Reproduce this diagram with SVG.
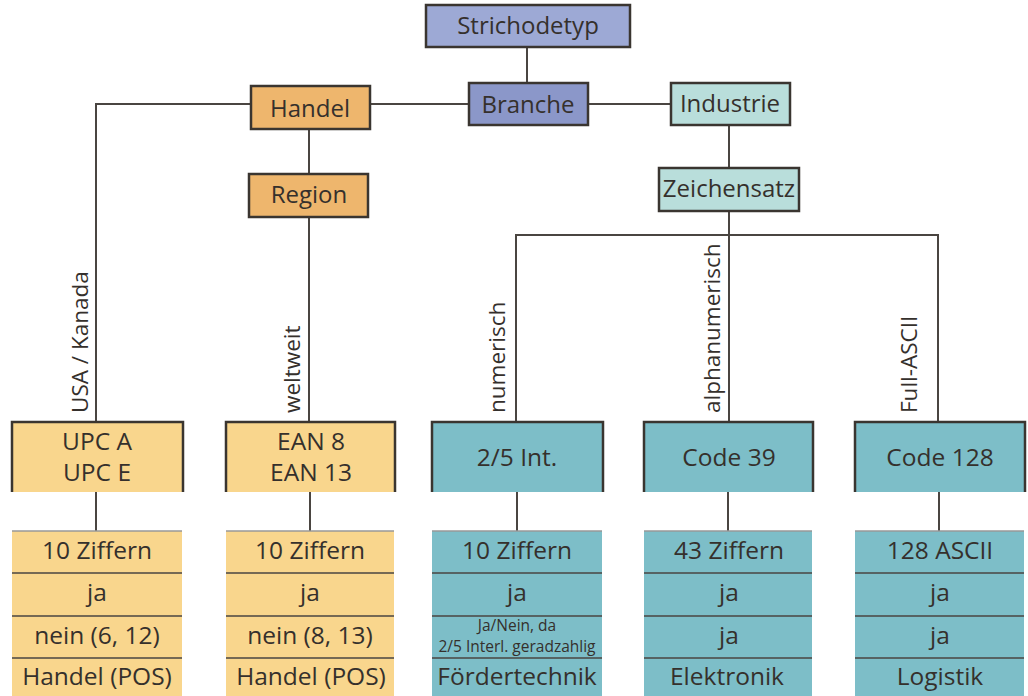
<svg xmlns="http://www.w3.org/2000/svg" width="1028" height="696" viewBox="0 0 1028 696">
<style>
text{font-family:"Open Sans","Noto Sans","Liberation Sans",sans-serif;fill:#35302c;text-anchor:middle}
.t{font-size:24px}
.b{font-size:24.5px}
.s{font-size:15.5px}
.r{font-size:22.5px;text-anchor:start}
.box{stroke:#3a3530;stroke-width:2.5}
.con{stroke:#4a4541;stroke-width:2;fill:none}
.row{stroke:#4a4541;stroke-width:1.5}
.o{fill:#f9d68d}.tl{fill:#7dbec8}
</style>
<g id="connectors">
<path class="con" d="M527 47V83M370 104H469M588 104H671M251 104H96V423M309 129V174M309 217V423M729 125V168M729 211V423M516 423V235H938V423"/>
<path class="con" d="M96 492V531M310 492V531M517 492V531M728 492V531M939 492V531"/>
</g>
<g id="n-strichodetyp"><rect class="box" x="426" y="5" width="204" height="42" fill="#9da9d5"/><text class="t" x="528" y="34">Strichodetyp</text></g>
<g id="n-branche"><rect class="box" x="469" y="83" width="119" height="42" fill="#8b97c9"/><text class="t" x="528" y="113">Branche</text></g>
<g id="n-handel"><rect class="box" x="251" y="86" width="119" height="43" fill="#eeb66d"/><text class="t" x="310" y="117">Handel</text></g>
<g id="n-region"><rect class="box" x="249" y="174" width="119" height="43" fill="#eeb66d"/><text class="t" x="309" y="203">Region</text></g>
<g id="n-industrie"><rect class="box" x="671" y="83" width="119" height="42" fill="#b9dedb"/><text class="t" x="730" y="112">Industrie</text></g>
<g id="n-zeichensatz"><rect class="box" x="659" y="168" width="140" height="43" fill="#b9dedb"/><text class="t" x="729" y="197">Zeichensatz</text></g>
<g id="labels">
<text class="r" transform="translate(88 413) rotate(-90)">USA / Kanada</text>
<text class="r" transform="translate(300 413) rotate(-90)">weltweit</text>
<text class="r" transform="translate(505 413) rotate(-90)">numerisch</text>
<text class="r" transform="translate(720 413) rotate(-90)">alphanumerisch</text>
<text class="r" transform="translate(917 413) rotate(-90)">Full-ASCII</text>
</g>
<g id="n-upc">
<path class="o" d="M12 422H183V492H12Z"/><path class="box" fill="none" d="M12 492V422H183V492"/>
<text class="b" x="97" y="450">UPC A</text><text class="b" x="97" y="481">UPC E</text>
<rect class="o" x="12" y="531" width="170" height="165"/>
<path class="row" d="M12 573H182M12 616H182M12 658H182" /><path d="M12 531H182" stroke="#999" stroke-width="1.5"/>
<text class="b" x="97" y="559">10 Ziffern</text><text class="b" x="97" y="601">ja</text><text class="b" x="97" y="644">nein (6, 12)</text><text class="b" x="97" y="685">Handel (POS)</text>
</g>
<g id="n-ean">
<path class="o" d="M226 422H395V492H226Z"/><path class="box" fill="none" d="M226 492V422H395V492"/>
<text class="b" x="311" y="450">EAN 8</text><text class="b" x="311" y="481">EAN 13</text>
<rect class="o" x="226" y="531" width="168" height="165"/>
<path class="row" d="M226 573H394M226 616H394M226 658H394"/><path d="M226 531H394" stroke="#999" stroke-width="1.5"/>
<text class="b" x="310" y="559">10 Ziffern</text><text class="b" x="310" y="601">ja</text><text class="b" x="310" y="644">nein (8, 13)</text><text class="b" x="311" y="685">Handel (POS)</text>
</g>
<g id="n-25int">
<path class="tl" d="M432 422H603V492H432Z"/><path class="box" fill="none" d="M432 492V422H603V492"/>
<text class="b" x="517" y="466">2/5 Int.</text>
<rect class="tl" x="432" y="531" width="170" height="165"/>
<path class="row" d="M432 573H602M432 616H602M432 658H602"/><path d="M432 531H602" stroke="#999" stroke-width="1.5"/>
<text class="b" x="517" y="559">10 Ziffern</text><text class="b" x="517" y="601">ja</text>
<text class="s" x="517" y="631">Ja/Nein, da</text><text class="s" x="517" y="652">2/5 Interl. geradzahlig</text>
<text class="b" x="517" y="685">Fördertechnik</text>
</g>
<g id="n-code39">
<path class="tl" d="M644 422H813V492H644Z"/><path class="box" fill="none" d="M644 492V422H813V492"/>
<text class="b" x="729" y="466">Code 39</text>
<rect class="tl" x="644" y="531" width="168" height="165"/>
<path class="row" d="M644 573H812M644 616H812M644 658H812"/><path d="M644 531H812" stroke="#999" stroke-width="1.5"/>
<text class="b" x="729" y="559">43 Ziffern</text><text class="b" x="729" y="601">ja</text><text class="b" x="729" y="644">ja</text><text class="b" x="727" y="685">Elektronik</text>
</g>
<g id="n-code128">
<path class="tl" d="M855 422H1025V492H855Z"/><path class="box" fill="none" d="M855 492V422H1025V492"/>
<text class="b" x="940" y="466">Code 128</text>
<rect class="tl" x="855" y="531" width="169" height="165"/>
<path class="row" d="M855 573H1024M855 616H1024M855 658H1024"/><path d="M855 531H1024" stroke="#999" stroke-width="1.5"/>
<text class="b" x="940" y="559">128 ASCII</text><text class="b" x="940" y="601">ja</text><text class="b" x="940" y="644">ja</text><text class="b" x="940" y="685">Logistik</text>
</g>
</svg>
